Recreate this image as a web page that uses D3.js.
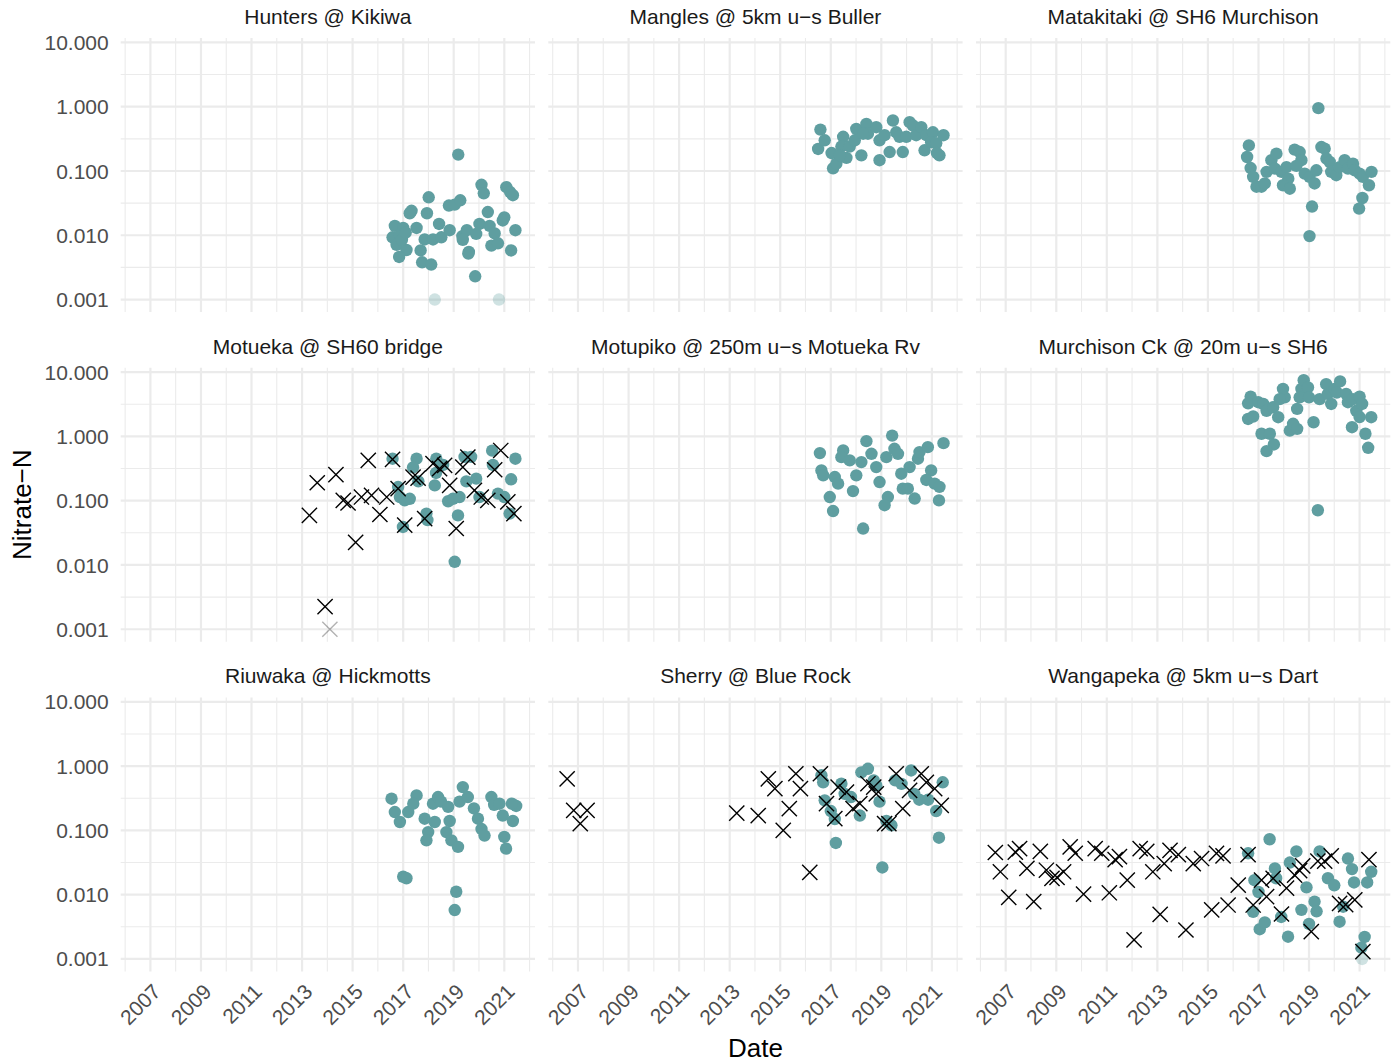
<!DOCTYPE html>
<html>
<head>
<meta charset="utf-8">
<script src="https://cdn.jsdelivr.net/npm/d3@7"></script>
<style>
  body { margin: 0; background: #fff; }
  text { font-family: 'Liberation Sans', Arial, sans-serif; }
</style>
</head>
<body>
<svg id="chart" width="1395" height="1063"></svg>
<script>
// values: [decimal year, nitrate-N]
const siteNames = [
  'Hunters @ Kikiwa', 'Mangles @ 5km u\u2212s Buller', 'Matakitaki @ SH6 Murchison',
  'Motueka @ SH60 bridge', 'Motupiko @ 250m u\u2212s Motueka Rv', 'Murchison Ck @ 20m u\u2212s SH6',
  'Riuwaka @ Hickmotts', 'Sherry @ Blue Rock', 'Wangapeka @ 5km u\u2212s Dart'
]

const yearTicks = [2007, 2009, 2011, 2013, 2015, 2017, 2019, 2021]
const yearMinor = [2006, 2008, 2010, 2012, 2014, 2016, 2018, 2020, 2022]
const valueTicks = [0.001, 0.01, 0.1, 1, 10]

const huntersDots = [
  [2019.18, 0.18], [2020.10, 0.061], [2020.19, 0.045], [2021.08, 0.056], [2021.23, 0.047],
  [2021.34, 0.042], [2018.01, 0.039], [2017.33, 0.024], [2017.26, 0.022], [2017.94, 0.022],
  [2018.81, 0.029], [2019.04, 0.030], [2019.26, 0.035], [2020.35, 0.023], [2021.0, 0.019],
  [2020.94, 0.017], [2021.44, 0.012], [2016.67, 0.014], [2017.0, 0.013], [2016.58, 0.0093],
  [2016.87, 0.010], [2016.74, 0.0071], [2017.13, 0.0059], [2016.84, 0.0046], [2017.53, 0.013],
  [2018.42, 0.015], [2017.85, 0.0086], [2018.18, 0.0086], [2018.51, 0.0093], [2018.84, 0.012],
  [2017.69, 0.0058], [2017.75, 0.0038], [2018.11, 0.0035], [2019.34, 0.0097], [2019.52, 0.012],
  [2019.89, 0.0105], [2020.02, 0.015], [2020.42, 0.014], [2020.62, 0.0107], [2019.60, 0.0055],
  [2019.58, 0.0052], [2020.49, 0.0069], [2020.75, 0.0075], [2021.27, 0.0058], [2019.85, 0.0023],
  [2019.36, 0.0085], [2016.95, 0.0085], [2017.1, 0.011]
]
const huntersLow = [[2018.25, 0.001], [2020.79, 0.001]]

const manglesDots = [
  [2016.59, 0.44], [2016.50, 0.22], [2016.76, 0.30], [2017.09, 0.11], [2017.22, 0.13],
  [2017.03, 0.19], [2017.49, 0.34], [2017.42, 0.24], [2017.62, 0.16], [2017.36, 0.175],
  [2017.75, 0.24], [2018.01, 0.45], [2017.95, 0.30], [2018.21, 0.175], [2018.41, 0.54],
  [2018.47, 0.38], [2018.28, 0.38], [2018.80, 0.48], [2018.93, 0.30], [2018.93, 0.147],
  [2019.33, 0.197], [2019.13, 0.36], [2019.46, 0.61], [2019.59, 0.40], [2019.72, 0.34],
  [2019.85, 0.197], [2019.99, 0.34], [2020.12, 0.575], [2020.25, 0.51], [2020.38, 0.36],
  [2020.58, 0.48], [2020.71, 0.21], [2020.78, 0.36], [2021.04, 0.40], [2020.97, 0.28],
  [2021.17, 0.27], [2021.30, 0.175], [2021.46, 0.36], [2021.2, 0.19]
]

const matakitakiDots = [
  [2019.37, 0.95], [2016.62, 0.25], [2016.55, 0.165], [2016.69, 0.111], [2016.79, 0.081],
  [2016.92, 0.057], [2017.12, 0.057], [2017.25, 0.064], [2017.32, 0.097], [2017.51, 0.147],
  [2017.71, 0.186], [2017.65, 0.109], [2017.91, 0.097], [2018.11, 0.115], [2018.18, 0.076],
  [2017.97, 0.060], [2018.24, 0.053], [2018.43, 0.215], [2018.63, 0.197], [2018.70, 0.147],
  [2018.83, 0.091], [2019.02, 0.081], [2019.22, 0.064], [2019.29, 0.1025], [2019.12, 0.028],
  [2019.02, 0.0097], [2019.49, 0.236], [2019.62, 0.222], [2019.69, 0.156], [2019.82, 0.138],
  [2019.88, 0.097], [2020.08, 0.086], [2020.21, 0.115], [2020.41, 0.147], [2020.54, 0.109],
  [2020.74, 0.130], [2020.81, 0.1025], [2021.0, 0.091], [2021.13, 0.081], [2021.47, 0.097],
  [2021.37, 0.060], [2021.11, 0.038], [2020.98, 0.026], [2018.5, 0.12]
]

const motuekaDots = [
  [2016.58, 0.45], [2017.53, 0.45], [2017.39, 0.33], [2018.31, 0.45], [2018.58, 0.36],
  [2019.43, 0.48], [2019.69, 0.48], [2020.52, 0.60], [2021.44, 0.45], [2021.27, 0.215],
  [2016.80, 0.163], [2016.87, 0.114], [2017.06, 0.101], [2017.26, 0.107], [2016.99, 0.039],
  [2017.92, 0.063], [2017.96, 0.050], [2018.25, 0.173], [2018.78, 0.098], [2018.97, 0.107],
  [2019.23, 0.114], [2019.17, 0.059], [2019.04, 0.0112], [2019.89, 0.22], [2020.02, 0.114],
  [2020.55, 0.36], [2020.75, 0.129], [2021.0, 0.114], [2021.21, 0.063], [2018.3, 0.27],
  [2019.5, 0.20], [2017.6, 0.20]
]
const motuekaCrosses = [
  [2013.29, 0.059], [2013.60, 0.19], [2014.34, 0.254], [2014.63, 0.101], [2014.82, 0.092],
  [2015.12, 0.0224], [2015.35, 0.114], [2015.62, 0.423], [2015.75, 0.121], [2016.08, 0.061],
  [2016.35, 0.114], [2016.58, 0.438], [2016.80, 0.154], [2017.06, 0.0416], [2017.39, 0.233],
  [2017.59, 0.225], [2017.85, 0.0527], [2018.18, 0.376], [2018.44, 0.315], [2018.64, 0.354],
  [2018.84, 0.173], [2019.10, 0.0369], [2019.36, 0.333], [2019.56, 0.476], [2019.82, 0.145],
  [2020.09, 0.114], [2020.35, 0.101], [2020.62, 0.303], [2020.86, 0.604], [2021.14, 0.0955],
  [2021.38, 0.063], [2013.91, 0.00225]
]
const motuekaLowCrosses = [[2014.10, 0.001]]

const motupikoDots = [
  [2016.57, 0.55], [2016.63, 0.296], [2016.70, 0.248], [2017.16, 0.233], [2017.29, 0.184],
  [2016.96, 0.114], [2017.09, 0.069], [2017.49, 0.604], [2017.42, 0.476], [2017.75, 0.423],
  [2018.01, 0.248], [2017.88, 0.141], [2018.28, 0.0369], [2018.41, 0.843], [2018.21, 0.398],
  [2018.61, 0.537], [2018.80, 0.333], [2018.93, 0.195], [2019.20, 0.476], [2019.26, 0.114],
  [2019.13, 0.085], [2019.43, 1.03], [2019.52, 0.641], [2019.66, 0.537], [2019.79, 0.263],
  [2019.85, 0.154], [2020.05, 0.154], [2020.12, 0.333], [2020.32, 0.108], [2020.45, 0.45],
  [2020.51, 0.57], [2020.84, 0.68], [2020.97, 0.296], [2020.78, 0.21], [2021.11, 0.184],
  [2021.30, 0.164], [2021.28, 0.101], [2021.46, 0.785]
]

const murchisonDots = [
  [2019.35, 0.071], [2016.69, 4.16], [2016.59, 3.27], [2016.59, 1.87], [2016.79, 2.04],
  [2016.99, 3.4], [2017.19, 3.2], [2017.32, 2.5], [2017.12, 1.1], [2017.45, 1.1],
  [2017.61, 0.75], [2017.32, 0.59], [2017.58, 2.84], [2017.78, 1.99], [2017.97, 5.47],
  [2018.04, 4.05], [2017.84, 3.8], [2018.24, 1.23], [2018.37, 1.57], [2018.53, 2.68],
  [2018.70, 5.47], [2018.79, 7.5], [2018.63, 4.05], [2018.96, 5.8], [2019.0, 4.05],
  [2019.18, 1.66], [2019.42, 3.8], [2019.68, 6.5], [2019.75, 4.57], [2019.88, 3.2],
  [2020.01, 5.47], [2020.23, 7.17], [2020.1, 4.8], [2020.47, 4.57], [2020.54, 3.4],
  [2020.74, 3.8], [2021.0, 4.16], [2020.87, 2.5], [2021.1, 3.2], [2021.0, 2.0],
  [2021.46, 1.99], [2020.70, 1.39], [2021.23, 1.1], [2021.34, 0.665], [2018.53, 1.31]
]

const riuwakaDots = [
  [2016.54, 0.311], [2016.67, 0.193], [2016.87, 0.135], [2017.0, 0.019], [2017.13, 0.018],
  [2017.20, 0.193], [2017.53, 0.35], [2017.4, 0.26], [2017.85, 0.152], [2017.99, 0.094],
  [2017.92, 0.070], [2018.18, 0.26], [2018.38, 0.33], [2018.5, 0.28], [2018.25, 0.135],
  [2018.78, 0.232], [2018.84, 0.14], [2018.71, 0.094], [2018.91, 0.070], [2019.17, 0.0553],
  [2019.10, 0.0111], [2019.04, 0.00577], [2019.23, 0.28], [2019.36, 0.471], [2019.56, 0.33],
  [2019.8, 0.22], [2019.96, 0.152], [2020.1, 0.105], [2020.22, 0.083], [2020.49, 0.33],
  [2020.6, 0.25], [2020.81, 0.26], [2020.94, 0.17], [2021.0, 0.079], [2021.07, 0.052],
  [2021.34, 0.14], [2021.47, 0.24], [2021.3, 0.26]
]

const sherryDots = [
  [2016.63, 0.72], [2016.7, 0.56], [2016.76, 0.293], [2017.0, 0.20], [2017.16, 0.15],
  [2017.20, 0.0638], [2017.42, 0.532], [2017.55, 0.37], [2017.8, 0.33], [2018.15, 0.17],
  [2018.21, 0.80], [2018.47, 0.908], [2018.7, 0.60], [2018.8, 0.50], [2018.93, 0.28],
  [2019.04, 0.0265], [2019.2, 0.14], [2019.4, 0.12], [2019.55, 0.60], [2019.8, 0.53],
  [2020.18, 0.855], [2020.3, 0.37], [2020.5, 0.30], [2020.85, 0.30], [2021.17, 0.20],
  [2021.28, 0.077], [2021.43, 0.56]
]
const sherryCrosses = [
  [2006.57, 0.635], [2006.83, 0.205], [2007.36, 0.205], [2007.09, 0.127], [2013.28, 0.186],
  [2014.13, 0.17], [2014.53, 0.635], [2014.79, 0.445], [2015.12, 0.10], [2015.36, 0.218],
  [2015.62, 0.76], [2015.80, 0.445], [2016.17, 0.0222], [2016.59, 0.76], [2016.83, 0.26],
  [2017.16, 0.152], [2017.29, 0.47], [2017.62, 0.394], [2017.88, 0.218], [2018.15, 0.26],
  [2018.47, 0.532], [2018.80, 0.37], [2019.13, 0.127], [2019.3, 0.127], [2019.59, 0.76],
  [2019.85, 0.218], [2020.12, 0.42], [2020.58, 0.76], [2020.78, 0.56], [2021.11, 0.445],
  [2021.37, 0.245], [2018.7, 0.47]
]

const wangapekaDots = [
  [2016.59, 0.044], [2017.44, 0.0728], [2016.84, 0.0168], [2017.0, 0.011], [2016.79, 0.0054],
  [2017.05, 0.0029], [2017.25, 0.0037], [2017.65, 0.0256], [2017.7, 0.018], [2017.9, 0.0045],
  [2018.17, 0.00222], [2018.24, 0.0316], [2018.50, 0.047], [2018.7, 0.0058], [2018.90, 0.013],
  [2019.0, 0.0035], [2019.22, 0.0078], [2019.3, 0.0055], [2019.42, 0.047], [2019.75, 0.018],
  [2020.0, 0.014], [2020.21, 0.0038], [2020.35, 0.0065], [2020.54, 0.0365], [2020.7, 0.025],
  [2020.78, 0.0155], [2021.2, 0.0022], [2021.07, 0.0015], [2021.46, 0.0227], [2021.3, 0.0155]
]
const wangapekaLow = [[2021.1, 0.001]]
const wangapekaCrosses = [
  [2006.59, 0.0453], [2006.79, 0.0227], [2007.12, 0.0091], [2007.38, 0.046], [2007.55, 0.0522],
  [2007.84, 0.0256], [2008.11, 0.0078], [2008.37, 0.047], [2008.61, 0.024], [2008.83, 0.0179],
  [2009.03, 0.0186], [2009.29, 0.0227], [2009.55, 0.0553], [2009.75, 0.0441], [2010.08, 0.0102],
  [2010.54, 0.0522], [2010.80, 0.0441], [2011.10, 0.0107], [2011.33, 0.0352], [2011.50, 0.039],
  [2011.81, 0.0168], [2012.08, 0.00198], [2012.32, 0.0522], [2012.58, 0.047], [2012.82, 0.0227],
  [2013.11, 0.00494], [2013.27, 0.0305], [2013.50, 0.049], [2013.83, 0.042], [2014.13, 0.00282],
  [2014.42, 0.0305], [2014.75, 0.0365], [2015.15, 0.00578], [2015.34, 0.044], [2015.60, 0.040],
  [2015.80, 0.0069], [2016.20, 0.0141], [2016.59, 0.042], [2016.79, 0.0069], [2017.12, 0.0168],
  [2017.32, 0.0093], [2017.58, 0.0179], [2017.91, 0.005], [2018.11, 0.0126], [2018.43, 0.0202],
  [2018.63, 0.0236], [2019.09, 0.00266], [2019.35, 0.0332], [2019.62, 0.0332], [2019.88, 0.040],
  [2020.21, 0.0073], [2020.45, 0.007], [2020.81, 0.0083], [2021.13, 0.0013], [2021.37, 0.0352],
  [2018.75, 0.028]
]

const siteSeries = [
  { dots: huntersDots, low: huntersLow, crosses: [], lowCrosses: [] },
  { dots: manglesDots, low: [], crosses: [], lowCrosses: [] },
  { dots: matakitakiDots, low: [], crosses: [], lowCrosses: [] },
  { dots: motuekaDots, low: [], crosses: motuekaCrosses, lowCrosses: motuekaLowCrosses },
  { dots: motupikoDots, low: [], crosses: [], lowCrosses: [] },
  { dots: murchisonDots, low: [], crosses: [], lowCrosses: [] },
  { dots: riuwakaDots, low: [], crosses: [], lowCrosses: [] },
  { dots: sherryDots, low: [], crosses: sherryCrosses, lowCrosses: [] },
  { dots: wangapekaDots, low: wangapekaLow, crosses: wangapekaCrosses, lowCrosses: [] }
]

class FacetChart {
  constructor () {
    this.svg = d3.select('#chart')
    this.colLeft = [120.7, 548.3, 976]
    this.rowTop = [38, 367.7, 697.4]
    this.panelW = 414.3
    this.panelH = 274
    this.teal = '#5F9EA0'
    this.grid = '#EBEBEB'
    this.initScales()
    this.draw()
  }

  toDate (year) {
    let y0 = Math.floor(year)
    let start = Date.UTC(y0, 0, 1)
    let end = Date.UTC(y0 + 1, 0, 1)
    return new Date(start + (year - y0) * (end - start))
  }

  initScales () {
    let all = []
    siteSeries.forEach(s => {
      all = all.concat(s.dots, s.low, s.crosses, s.lowCrosses)
    })
    // ggplot-style 5% expansion on both axes
    let t = d3.extent(all, d => this.toDate(d[0]).getTime())
    let tPad = (t[1] - t[0]) * 0.05
    this.x = d3.scaleUtc()
      .domain([new Date(t[0] - tPad), new Date(t[1] + tPad)])
      .range([0, this.panelW])
    let l = d3.extent(all, d => Math.log10(d[1]))
    let lPad = (l[1] - l[0]) * 0.05
    this.y = d3.scaleLog()
      .domain([Math.pow(10, l[0] - lPad), Math.pow(10, l[1] + lPad)])
      .range([this.panelH, 0])
  }

  draw () {
    let self = this
    let fmt = d3.format('.3f')
    let dom = this.x.domain()
    let yMinor = []
    for (let i = 0; i < valueTicks.length - 1; i++) {
      yMinor.push(Math.sqrt(valueTicks[i] * valueTicks[i + 1]))
    }
    let xMajor = yearTicks.map(yr => this.toDate(yr))
    let xMinor = yearMinor.map(yr => this.toDate(yr)).filter(d => d >= dom[0] && d <= dom[1])

    siteNames.forEach(function (name, i) {
      let col = i % 3
      let row = Math.floor(i / 3)
      let g = self.svg.append('g')
        .attr('transform', 'translate(' + self.colLeft[col] + ',' + self.rowTop[row] + ')')

      // minor grid
      g.selectAll('.ymin').data(yMinor).enter().append('line')
        .attr('x1', 0).attr('x2', self.panelW)
        .attr('y1', d => self.y(d)).attr('y2', d => self.y(d))
        .attr('stroke', self.grid).attr('stroke-width', 1.1)
      g.selectAll('.xmin').data(xMinor).enter().append('line')
        .attr('y1', 0).attr('y2', self.panelH)
        .attr('x1', d => self.x(d)).attr('x2', d => self.x(d))
        .attr('stroke', self.grid).attr('stroke-width', 1.1)
      // major grid
      g.selectAll('.ymaj').data(valueTicks).enter().append('line')
        .attr('x1', 0).attr('x2', self.panelW)
        .attr('y1', d => self.y(d)).attr('y2', d => self.y(d))
        .attr('stroke', self.grid).attr('stroke-width', 2.2)
      g.selectAll('.xmaj').data(xMajor).enter().append('line')
        .attr('y1', 0).attr('y2', self.panelH)
        .attr('x1', d => self.x(d)).attr('x2', d => self.x(d))
        .attr('stroke', self.grid).attr('stroke-width', 2.2)

      // strip title
      self.svg.append('text')
        .attr('x', self.colLeft[col] + self.panelW / 2)
        .attr('y', self.rowTop[row] - 14)
        .attr('text-anchor', 'middle')
        .attr('font-size', 21)
        .attr('fill', '#1A1A1A')
        .text(name)

      let s = siteSeries[i]
      self.drawDots(g, s.low, 0.3)
      self.drawDots(g, s.dots, 1)
      self.drawCrosses(g, s.lowCrosses, 0.3)
      self.drawCrosses(g, s.crosses, 1)

      // y labels on the first column
      if (col === 0) {
        g.selectAll('.ylab').data(valueTicks).enter().append('text')
          .attr('x', -12)
          .attr('y', d => self.y(d))
          .attr('dy', '0.36em')
          .attr('text-anchor', 'end')
          .attr('font-size', 21)
          .attr('fill', '#4D4D4D')
          .text(d => fmt(d))
      }
      // x labels on the bottom row
      if (row === 2) {
        g.selectAll('.xlab').data(xMajor).enter().append('text')
          .attr('transform', d => 'translate(' + (self.x(d) + 1) + ',' + (self.panelH + 11) + ') rotate(-45)')
          .attr('dy', '0.72em')
          .attr('text-anchor', 'end')
          .attr('font-size', 21)
          .attr('fill', '#4D4D4D')
          .text(d => d.getUTCFullYear())
      }
    })

    // axis titles
    this.svg.append('text')
      .attr('x', this.colLeft[0] + (this.colLeft[2] + this.panelW - this.colLeft[0]) / 2)
      .attr('y', 1057)
      .attr('text-anchor', 'middle')
      .attr('font-size', 26)
      .attr('fill', '#000')
      .text('Date')
    this.svg.append('text')
      .attr('transform', 'translate(31,' + (this.rowTop[0] + (this.rowTop[2] + this.panelH - this.rowTop[0]) / 2) + ') rotate(-90)')
      .attr('text-anchor', 'middle')
      .attr('font-size', 26)
      .attr('fill', '#000')
      .text('Nitrate\u2212N')
  }

  drawDots (g, data, alpha) {
    let self = this
    g.append('g').selectAll('circle').data(data).enter().append('circle')
      .attr('cx', d => self.x(self.toDate(d[0])))
      .attr('cy', d => self.y(d[1]))
      .attr('r', 6.2)
      .attr('fill', self.teal)
      .attr('fill-opacity', alpha)
  }

  drawCrosses (g, data, alpha) {
    let self = this
    let h = 7.6
    g.append('g').selectAll('path').data(data).enter().append('path')
      .attr('transform', d => 'translate(' + self.x(self.toDate(d[0])) + ',' + self.y(d[1]) + ')')
      .attr('d', 'M' + -h + ',' + -h + 'L' + h + ',' + h + 'M' + -h + ',' + h + 'L' + h + ',' + -h)
      .attr('stroke', '#000')
      .attr('stroke-opacity', alpha)
      .attr('stroke-width', 1.4)
      .attr('fill', 'none')
  }
}

new FacetChart()
</script>
</body>
</html>
